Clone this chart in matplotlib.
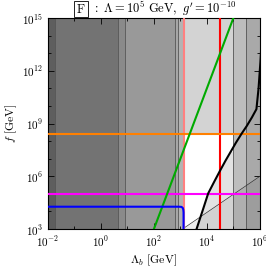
import numpy as np
import matplotlib
matplotlib.use('Agg')
import matplotlib.pyplot as plt
from matplotlib.ticker import LogLocator, FuncFormatter, NullFormatter

plt.rcParams['mathtext.fontset'] = 'cm'
plt.rcParams['font.family'] = 'DejaVu Serif'

# Limites em log10 das faixas verticais (Lambda_b)
bandas_log = [-2.0, -1.74, 0.64, 0.91, 2.79, 2.91, 3.13, 4.98, 5.49, 6.0]
cores_bandas = ['#5e5e5e', '#737373', '#8a8a8a', '#999999', '#a6a6a6',
                '#b3b3b3', '#ffffff', '#bdbdbd', '#a9a9a9']
linhas_borda_log = [-1.74, 0.64, 0.91, 2.79, 2.91, 4.98, 5.49]

# Linhas de referência
lam_rosa = 10**3.13
lam_vermelho = 10**4.49
f_laranja = 10**8.4
f_magenta = 10**5.0

# Linha verde (f ~ Lambda^4)
lam_verde = [1e2, 1e5]
f_verde = [1e3, 1e15]

# Curva azul
lam_azul_log = [-2.0, 2.95, 3.04, 3.09, 3.11, 3.12, 3.12]
f_azul_log = [4.27, 4.27, 4.26, 4.20, 4.10, 3.95, 3.0]

# Curva preta
lam_preta_log = [3.61, 3.85, 4.05, 4.28, 4.49, 4.70, 4.90, 5.10, 5.30, 5.50, 5.70, 5.87, 5.95, 6.02, 6.06]
f_preta_log = [3.0, 4.1, 5.03, 5.70, 6.30, 6.88, 7.40, 7.92, 8.40, 8.85, 9.35, 9.82, 11.0, 12.5, 13.5]

# Linha fina f = Lambda
lam_fina = [10**3.13, 1e6]
f_fina = [10**3.05, 1e6]

fig = plt.figure(figsize=(2.66, 2.73), dpi=100)
ax = fig.add_axes([0.180, 0.161, 0.797, 0.773])
ax.set_xscale('log')
ax.set_yscale('log')
ax.set_xlim(1e-2, 1e6)
ax.set_ylim(1e3, 1e15)

# Faixas verticais
for i, cor in enumerate(cores_bandas):
    ax.axvspan(10**bandas_log[i], 10**bandas_log[i + 1], color=cor, lw=0, zorder=0)

# Região central acima da linha laranja
ax.fill_between([10**3.13, 10**4.98], f_laranja, 1e15, color='#d3d3d3', lw=0, zorder=0.5)

# Região à direita da curva preta
lp = 10**np.array(lam_preta_log)
fp = 10**np.array(f_preta_log)
msk = fp <= f_laranja * 1.2
ax.fill_betweenx(fp[msk], lp[msk], 10**4.98, where=lp[msk] < 10**4.98,
                 color='#e2e2e2', lw=0, zorder=0.5)

# Região abaixo de f = Lambda
ax.fill_between(lam_fina, 1e3, f_fina, color='black', alpha=0.07, lw=0, zorder=0.6)

for xl in linhas_borda_log:
    ax.axvline(10**xl, color='#555555', lw=0.6, zorder=1)

ax.plot(lam_fina, f_fina, color='#333333', lw=0.5, zorder=2)
ax.axvline(lam_rosa, color='#ff8080', lw=1.5, zorder=3)
ax.axvline(lam_vermelho, color='#ff0000', lw=1.5, zorder=3)
ax.axhline(f_laranja, color='#ff8000', lw=1.5, zorder=3)
ax.axhline(f_magenta, color='#ff00ff', lw=1.5, zorder=3)
ax.plot(lam_verde, f_verde, color='#00aa00', lw=1.5, zorder=3)
ax.plot(10**np.array(lam_azul_log), 10**np.array(f_azul_log), color='#0000ff', lw=1.5, zorder=3)
ax.plot(lp, fp, color='black', lw=1.5, zorder=4)

# Eixos e ticks
fmt = FuncFormatter(lambda v, p: r'$10^{%d}$' % int(round(np.log10(v))))
ax.xaxis.set_major_locator(LogLocator(base=100.0, numticks=20))
ax.xaxis.set_minor_locator(LogLocator(base=10.0, subs=(1.0,), numticks=20))
ax.yaxis.set_major_locator(LogLocator(base=1000.0, numticks=20))
ax.yaxis.set_minor_locator(LogLocator(base=10.0, subs=(1.0,), numticks=20))
ax.xaxis.set_major_formatter(fmt)
ax.yaxis.set_major_formatter(fmt)
ax.xaxis.set_minor_formatter(NullFormatter())
ax.yaxis.set_minor_formatter(NullFormatter())
ax.tick_params(which='both', direction='in', top=True, right=True, labelsize=8, width=0.6)
ax.tick_params(which='major', length=4)
ax.tick_params(which='minor', length=2.5)
for s in ax.spines.values():
    s.set_linewidth(0.8)

ax.set_xlabel(r'$\Lambda_b\ [\mathrm{GeV}]$', fontsize=8.5, labelpad=3)
ax.set_ylabel(r'$f\ [\mathrm{GeV}]$', fontsize=8.5, labelpad=2)

fig.text(0.305, 0.967, r'$\mathrm{F}$', fontsize=9, ha='center', va='center',
         bbox=dict(boxstyle='square,pad=0.15', fc='white', ec='black', lw=0.6))
fig.text(0.345, 0.967, r'$:\ \Lambda = 10^5\ \mathrm{GeV},\ g^{\prime} = 10^{-10}$',
         fontsize=9, ha='left', va='center')

fig.savefig('out.png', dpi=100)
